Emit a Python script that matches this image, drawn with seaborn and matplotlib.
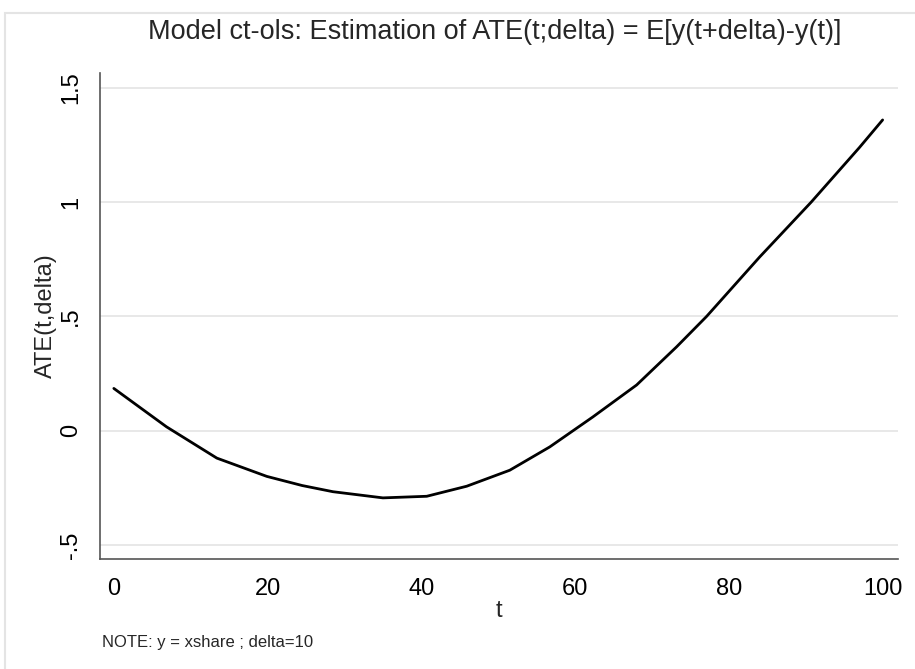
import matplotlib
matplotlib.use("Agg")
import matplotlib.pyplot as plt
from matplotlib.patches import Rectangle
import seaborn as sns
import pandas as pd

# Data
t_values = [0, 6.85, 13.4, 19.9, 24.5, 28.5, 35.0, 40.7, 45.9, 51.5, 56.7,
            62.3, 68.0, 73.2, 77.1, 84.0, 90.7, 97.0, 100]
ate_values = [0.185, 0.017, -0.120, -0.200, -0.240, -0.267, -0.294, -0.287, -0.243, -0.173, -0.071,
              0.060, 0.200, 0.367, 0.500, 0.760, 1.000, 1.240, 1.360]
x_ticks = [0, 20, 40, 60, 80, 100]
y_ticks = [-0.5, 0, 0.5, 1, 1.5]
y_tick_labels = ["-.5", "0", ".5", "1", "1.5"]

title = "Model ct-ols: Estimation of ATE(t;delta) = E[y(t+delta)-y(t)]"
note = "NOTE: y = xshare ; delta=10"

sns.set_style("white")
plt.rcParams["font.family"] = ["Liberation Sans", "DejaVu Sans"]

df = pd.DataFrame({"t": t_values, "ate": ate_values})

fig = plt.figure(figsize=(9.15, 6.69), dpi=100)
W, H = 915, 669
ax = fig.add_axes([100 / W, 1 - 559 / H, (898 - 100) / W, (559 - 73) / H])

sns.lineplot(data=df, x="t", y="ate", ax=ax, color="black", linewidth=2.0)

ax.set_xlim(-1.8, 102.0)
ax.set_ylim(-0.5615, 1.5654)
ax.set_xticks(x_ticks)
ax.set_xticklabels([str(v) for v in x_ticks])
ax.set_yticks(y_ticks)
ax.set_yticklabels(y_tick_labels, rotation=90, va="center")

ax.grid(axis="y", color="#e6e6e6", linewidth=1.3)
ax.grid(axis="x", visible=False)
ax.set_axisbelow(True)

for side in ["top", "right"]:
    ax.spines[side].set_visible(False)
for side in ["left", "bottom"]:
    ax.spines[side].set_color("#555555")
    ax.spines[side].set_linewidth(1.2)

ax.tick_params(axis="both", direction="out", length=10, width=1.1, color="#333333",
               labelsize=17, labelcolor="black")
ax.tick_params(axis="x", pad=4)
ax.tick_params(axis="y", pad=3)

ax.set_xlabel("t", fontsize=17)
ax.xaxis.set_label_coords(0.5, (559 - 611) / 486)
ax.xaxis.label.set_va("center")
ax.set_ylabel("ATE(t,delta)", fontsize=17)
ax.yaxis.set_label_coords((46 - 100) / 798, 0.5)
ax.yaxis.label.set_va("center")

fig.text(495 / W, 1 - 32 / H, title, ha="center", va="center", fontsize=19.5)
fig.text(102 / W, 1 - 642 / H, note, ha="left", va="center", fontsize=12)

# outer graph frame
fig.patches.append(Rectangle((5 / W, -0.05), 1.05, 1 - 13 / H + 0.05,
                             transform=fig.transFigure, fill=False,
                             edgecolor="#e4e4e4", linewidth=1.5))

fig.savefig("out.png", dpi=100)
